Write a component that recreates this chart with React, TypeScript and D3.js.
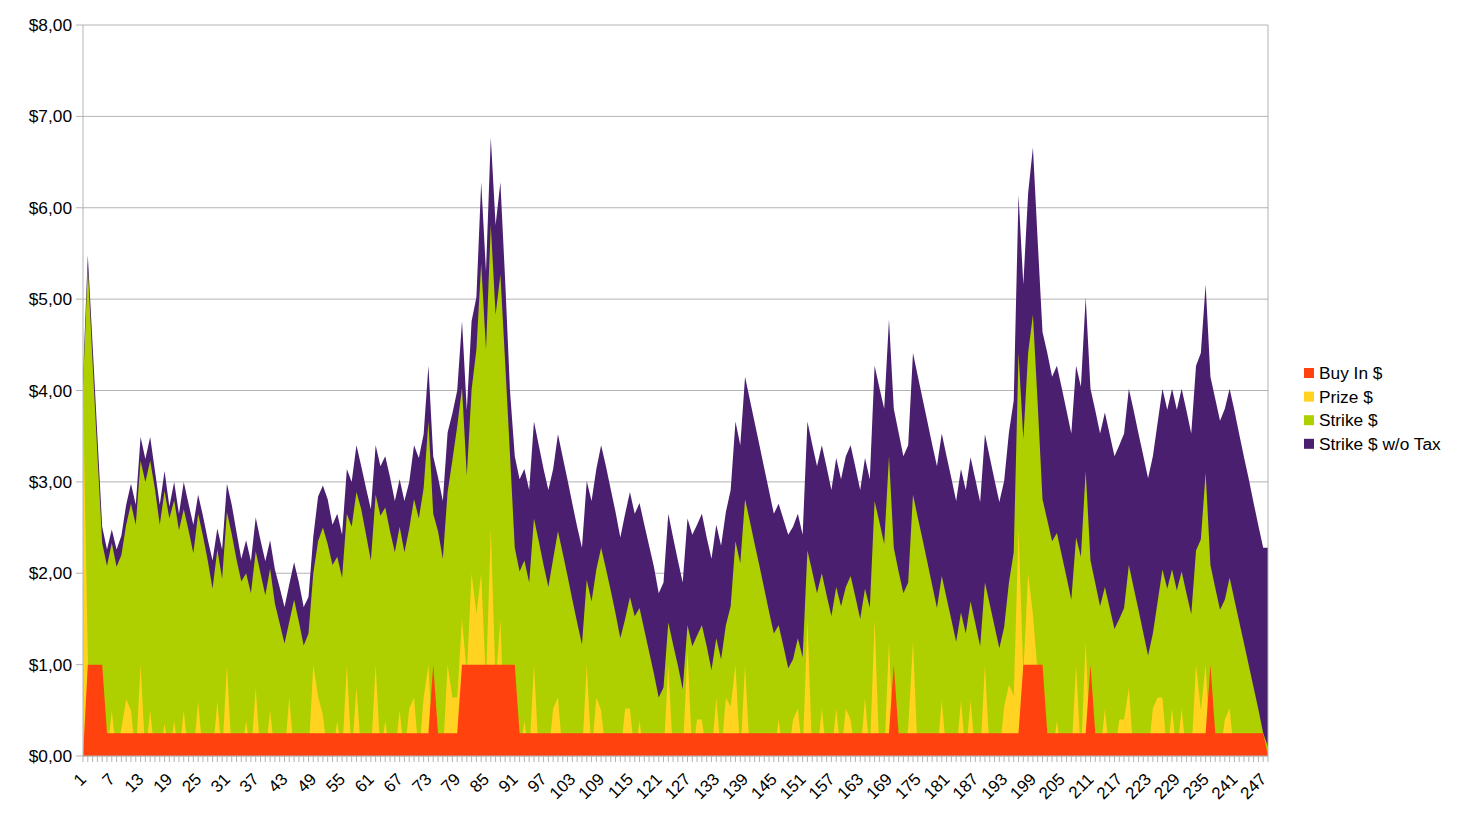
import * as d3 from 'd3';

// Strike $ w/o Tax (purple, back layer)
const strikeNoTax = [
  4.15, 5.48, 4.5, 3.5, 2.51, 2.26, 2.48, 2.26, 2.41, 2.75, 2.98, 2.75,
  3.49, 3.25, 3.49, 3.12, 2.75, 3.12, 2.73, 3.0, 2.65, 3.0, 2.76, 2.53,
  2.86, 2.63, 2.37, 2.14, 2.49, 2.26, 2.98, 2.75, 2.45, 2.16, 2.36, 2.13,
  2.61, 2.36, 2.13, 2.36, 2.04, 1.84, 1.63, 1.88, 2.12, 1.9, 1.63, 1.74,
  2.4, 2.84, 2.96, 2.81, 2.53, 2.65, 2.42, 3.14, 3.0, 3.4, 3.17, 2.93,
  2.7, 3.4, 3.17, 3.28, 3.05, 2.79, 3.03, 2.79, 3.0, 3.4, 3.26, 3.52,
  4.27, 3.28, 3.05, 2.79, 3.54, 3.75, 4.0, 4.76, 3.78, 4.76, 5.02, 6.28,
  5.3, 6.77, 5.81, 6.28, 5.2, 4.0, 3.28, 3.03, 3.14, 2.91, 3.66, 3.4,
  3.14, 2.91, 3.14, 3.52, 3.27, 3.02, 2.76, 2.51, 2.28, 3.01, 2.79, 3.14,
  3.4, 3.17, 2.92, 2.67, 2.39, 2.65, 2.89, 2.65, 2.77, 2.53, 2.3, 2.07,
  1.78, 1.9, 2.65, 2.39, 2.14, 1.9, 2.6, 2.42, 2.53, 2.65, 2.39, 2.16,
  2.53, 2.3, 2.67, 2.91, 3.66, 3.4, 4.15, 3.9, 3.65, 3.4, 3.15, 2.9,
  2.65, 2.76, 2.59, 2.42, 2.51, 2.65, 2.42, 3.66, 3.41, 3.17, 3.4, 3.16,
  2.91, 3.26, 3.03, 3.28, 3.4, 3.16, 2.91, 3.26, 3.03, 4.27, 4.03, 3.8,
  4.78, 3.8, 3.54, 3.28, 3.4, 4.41, 4.16, 3.91, 3.66, 3.41, 3.17, 3.53,
  3.28, 3.04, 2.79, 3.14, 2.91, 3.27, 3.03, 2.78, 3.52, 3.27, 3.02, 2.78,
  3.01, 3.54, 3.89, 6.14, 5.16, 6.16, 6.66, 5.63, 4.64, 4.41, 4.15, 4.27,
  4.03, 3.78, 3.53, 4.27, 4.04, 5.02, 4.02, 3.78, 3.53, 3.76, 3.52, 3.28,
  3.4, 3.53, 4.02, 3.78, 3.53, 3.29, 3.04, 3.28, 3.65, 4.02, 3.79, 4.02,
  3.79, 4.02, 3.78, 3.53, 4.27, 4.41, 5.16, 4.15, 3.91, 3.67, 3.8, 4.02,
  3.78, 3.52, 3.27, 3.03, 2.77, 2.52, 2.28, 2.28,
];

// Strike $ (green)
const strike = [
  4.05, 5.35, 4.3, 3.3, 2.33, 2.08, 2.33, 2.07, 2.2, 2.53, 2.76, 2.53,
  3.23, 3.0, 3.23, 2.92, 2.53, 2.9, 2.6, 2.8, 2.47, 2.7, 2.47, 2.22,
  2.65, 2.41, 2.14, 1.83, 2.26, 1.94, 2.67, 2.43, 2.15, 1.91, 2.0, 1.78,
  2.24, 2.0, 1.76, 2.05, 1.67, 1.45, 1.23, 1.47, 1.71, 1.47, 1.21, 1.34,
  2.0, 2.35, 2.5, 2.32, 2.09, 2.18, 1.95, 2.65, 2.51, 2.89, 2.7, 2.42,
  2.14, 2.86, 2.63, 2.72, 2.46, 2.23, 2.51, 2.23, 2.49, 2.81, 2.6, 2.93,
  3.66, 2.65, 2.46, 2.16, 2.89, 3.24, 3.61, 4.03, 3.07, 4.01, 4.45, 5.39,
  4.45, 5.81, 4.83, 5.27, 4.3, 3.3, 2.28, 2.02, 2.14, 1.9, 2.6, 2.35,
  2.09, 1.85, 2.16, 2.46, 2.22, 1.97, 1.71, 1.46, 1.22, 1.93, 1.69, 2.04,
  2.28, 2.05, 1.81, 1.56, 1.29, 1.5, 1.74, 1.53, 1.62, 1.38, 1.14, 0.9,
  0.64, 0.75, 1.46, 1.22, 0.99, 0.73, 1.43, 1.2, 1.32, 1.43, 1.2, 0.94,
  1.29, 1.06, 1.43, 1.64, 2.35, 2.11, 2.81, 2.57, 2.32, 2.08, 1.83, 1.58,
  1.34, 1.43, 1.2, 0.96, 1.06, 1.29, 1.08, 2.25, 2.02, 1.78, 2.0, 1.76,
  1.53, 1.85, 1.64, 1.85, 1.97, 1.74, 1.5, 1.83, 1.62, 2.79, 2.56, 2.32,
  3.28, 2.28, 2.02, 1.78, 1.9, 2.86, 2.61, 2.37, 2.12, 1.87, 1.62, 1.97,
  1.73, 1.49, 1.25, 1.57, 1.34, 1.69, 1.45, 1.2, 1.9, 1.66, 1.42, 1.18,
  1.41, 1.9, 2.23, 4.41, 3.47, 4.41, 4.83, 3.85, 2.81, 2.58, 2.35, 2.44,
  2.2, 1.96, 1.71, 2.39, 2.18, 3.12, 2.14, 1.89, 1.64, 1.85, 1.62, 1.39,
  1.5, 1.62, 2.09, 1.84, 1.6, 1.35, 1.1, 1.34, 1.69, 2.04, 1.83, 2.04,
  1.81, 2.02, 1.78, 1.55, 2.25, 2.37, 3.1, 2.09, 1.84, 1.6, 1.71, 1.95,
  1.71, 1.47, 1.23, 0.99, 0.75, 0.51, 0.25, 0.1,
];

// Prize $ (yellow)
const prize = [
  4.0, 1.1, 0, 0, 0, 0, 0.5, 0, 0.3, 0.62, 0.5, 0,
  1.0, 0, 0.5, 0, 0, 0.35, 0, 0.38, 0, 0.5, 0, 0,
  0.6, 0, 0, 0, 0.6, 0, 1.0, 0, 0, 0, 0.38, 0,
  0.75, 0, 0, 0.5, 0, 0, 0, 0.64, 0, 0, 0, 0,
  1.0, 0.65, 0.45, 0, 0, 0.38, 0, 1.0, 0, 0.75, 0, 0,
  0, 1.0, 0, 0.38, 0, 0, 0.5, 0, 0.52, 0.64, 0, 0.64,
  1.0, 0, 0, 0, 1.0, 0.64, 0.64, 1.5, 0.9, 2.0, 1.55, 2.0,
  0.8, 2.49, 0.8, 1.5, 0, 0, 0, 0, 0.38, 0, 1.0, 0,
  0, 0, 0.52, 0.64, 0, 0, 0, 0, 0, 1.0, 0, 0.64,
  0.5, 0, 0, 0, 0, 0.52, 0.52, 0, 0.38, 0, 0, 0,
  0, 0, 1.0, 0, 0, 0, 1.15, 0, 0.4, 0.4, 0, 0,
  0.64, 0, 0.64, 0.54, 1.0, 0, 1.0, 0, 0, 0, 0, 0,
  0, 0.4, 0, 0, 0.4, 0.52, 0, 1.5, 0, 0, 0.52, 0,
  0, 0.52, 0, 0.52, 0.4, 0, 0, 0.64, 0, 1.5, 0, 0,
  1.25, 0, 0, 0, 0.3, 1.25, 0, 0, 0, 0, 0, 0.61,
  0, 0, 0, 0.61, 0, 0.61, 0, 0, 1.0, 0, 0, 0,
  0.54, 0.78, 0.66, 2.49, 0.9, 2.0, 1.55, 0.9, 0, 0, 0, 0.38,
  0, 0, 0, 1.0, 0, 1.25, 0, 0, 0, 0.52, 0, 0,
  0.4, 0.4, 0.75, 0, 0, 0, 0, 0.52, 0.64, 0.64, 0, 0.52,
  0, 0.52, 0, 0, 1.0, 0.5, 1.0, 0, 0, 0, 0.4, 0.52,
  0, 0, 0, 0, 0, 0, 0, 0,
];

// Buy In $ (red, front layer)
const buyIn = [
  0, 1, 1, 1, 1, 0.25, 0.25, 0.25, 0.25, 0.25, 0.25, 0.25,
  0.25, 0.25, 0.25, 0.25, 0.25, 0.25, 0.25, 0.25, 0.25, 0.25, 0.25, 0.25,
  0.25, 0.25, 0.25, 0.25, 0.25, 0.25, 0.25, 0.25, 0.25, 0.25, 0.25, 0.25,
  0.25, 0.25, 0.25, 0.25, 0.25, 0.25, 0.25, 0.25, 0.25, 0.25, 0.25, 0.25,
  0.25, 0.25, 0.25, 0.25, 0.25, 0.25, 0.25, 0.25, 0.25, 0.25, 0.25, 0.25,
  0.25, 0.25, 0.25, 0.25, 0.25, 0.25, 0.25, 0.25, 0.25, 0.25, 0.25, 0.25,
  0.25, 1, 0.25, 0.25, 0.25, 0.25, 0.25, 1, 1, 1, 1, 1,
  1, 1, 1, 1, 1, 1, 1, 0.25, 0.25, 0.25, 0.25, 0.25,
  0.25, 0.25, 0.25, 0.25, 0.25, 0.25, 0.25, 0.25, 0.25, 0.25, 0.25, 0.25,
  0.25, 0.25, 0.25, 0.25, 0.25, 0.25, 0.25, 0.25, 0.25, 0.25, 0.25, 0.25,
  0.25, 0.25, 0.25, 0.25, 0.25, 0.25, 0.25, 0.25, 0.25, 0.25, 0.25, 0.25,
  0.25, 0.25, 0.25, 0.25, 0.25, 0.25, 0.25, 0.25, 0.25, 0.25, 0.25, 0.25,
  0.25, 0.25, 0.25, 0.25, 0.25, 0.25, 0.25, 0.25, 0.25, 0.25, 0.25, 0.25,
  0.25, 0.25, 0.25, 0.25, 0.25, 0.25, 0.25, 0.25, 0.25, 0.25, 0.25, 0.25,
  0.25, 1, 0.25, 0.25, 0.25, 0.25, 0.25, 0.25, 0.25, 0.25, 0.25, 0.25,
  0.25, 0.25, 0.25, 0.25, 0.25, 0.25, 0.25, 0.25, 0.25, 0.25, 0.25, 0.25,
  0.25, 0.25, 0.25, 0.25, 1, 1, 1, 1, 1, 0.25, 0.25, 0.25,
  0.25, 0.25, 0.25, 0.25, 0.25, 0.25, 1, 0.25, 0.25, 0.25, 0.25, 0.25,
  0.25, 0.25, 0.25, 0.25, 0.25, 0.25, 0.25, 0.25, 0.25, 0.25, 0.25, 0.25,
  0.25, 0.25, 0.25, 0.25, 0.25, 0.25, 0.25, 1, 0.25, 0.25, 0.25, 0.25,
  0.25, 0.25, 0.25, 0.25, 0.25, 0.25, 0.25, 0,
];

const categories = strike.map((_, i) => i + 1);
const xTickLabels = categories.filter((c) => (c - 1) % 6 === 0);
const yTicks = [0, 1, 2, 3, 4, 5, 6, 7, 8];

// legend order; drawing order is reversed (purple at the back)
const series = [
  { name: 'Buy In $', values: buyIn, color: '#ff420e' },
  { name: 'Prize $', values: prize, color: '#ffd320' },
  { name: 'Strike $', values: strike, color: '#aecf00' },
  { name: 'Strike $ w/o Tax', values: strikeNoTax, color: '#4b1f6f' },
];

const W = 1457;
const H = 819;
const margin = { top: 25, right: 189, bottom: 63, left: 83 };
const FONT = '"Liberation Sans", Arial, sans-serif';
const GRID = '#b3b3b3';

export default function App() {
  const x = d3.scaleLinear().domain([1, categories.length]).range([margin.left, W - margin.right]);
  const y = d3.scaleLinear().domain([0, 8]).range([H - margin.bottom, margin.top]);

  const area = (vals: number[]) =>
    d3
      .area<number>()
      .x((_, i) => x(categories[i]))
      .y0(y(0))
      .y1((d) => y(d))(vals) || '';

  const money = (v: number) => '$' + d3.format('.2f')(v).replace('.', ',');

  const x0 = x.range()[0];
  const x1 = x.range()[1];

  return (
    <div style={{ position: 'absolute', left: 0, top: 0, width: W, height: H, background: '#fff' }}>
      <svg width={W} height={H} style={{ display: 'block' }} fontFamily={FONT}>
        {/* grid lines with outer ticks */}
        {yTicks.map((t) => (
          <line key={'g' + t} x1={x0 - 7} x2={x1} y1={y(t)} y2={y(t)} stroke={GRID} strokeWidth={1} />
        ))}

        {/* areas, back to front */}
        {[...series].reverse().map((s) => (
          <path key={s.name} d={area(s.values)} fill={s.color} />
        ))}

        {/* frame */}
        <line x1={x0} x2={x0} y1={y(8)} y2={y(0)} stroke={GRID} />
        <line x1={x1} x2={x1} y1={y(8)} y2={y(0)} stroke={GRID} />
        <line x1={x0} x2={x1} y1={y(0)} y2={y(0)} stroke={GRID} />

        {/* category ticks */}
        {categories.map((c) => (
          <line key={'t' + c} x1={x(c)} x2={x(c)} y1={y(0)} y2={y(0) + 6} stroke={GRID} />
        ))}

        {/* y labels */}
        {yTicks.map((t) => (
          <text
            key={'y' + t}
            x={x0 - 11}
            y={y(t)}
            dy="0.35em"
            textAnchor="end"
            fontSize={17.3}
            fill="#000"
          >
            {money(t)}
          </text>
        ))}

        {/* x labels */}
        {xTickLabels.map((c) => (
          <text
            key={'x' + c}
            transform={`translate(${x(c)},${y(0) + 20}) rotate(-45)`}
            dy="0.35em"
            textAnchor="end"
            fontSize={17}
            fill="#000"
          >
            {c}
          </text>
        ))}

        {/* legend */}
        {series.map((s, i) => (
          <g key={'l' + s.name} transform={`translate(1304,${373 + i * 23.6})`}>
            <rect x={0} y={-5} width={10} height={10} fill={s.color} />
            <text x={15} y={0} dy="0.35em" fontSize={17.3} fill="#000">
              {s.name}
            </text>
          </g>
        ))}
      </svg>
    </div>
  );
}
